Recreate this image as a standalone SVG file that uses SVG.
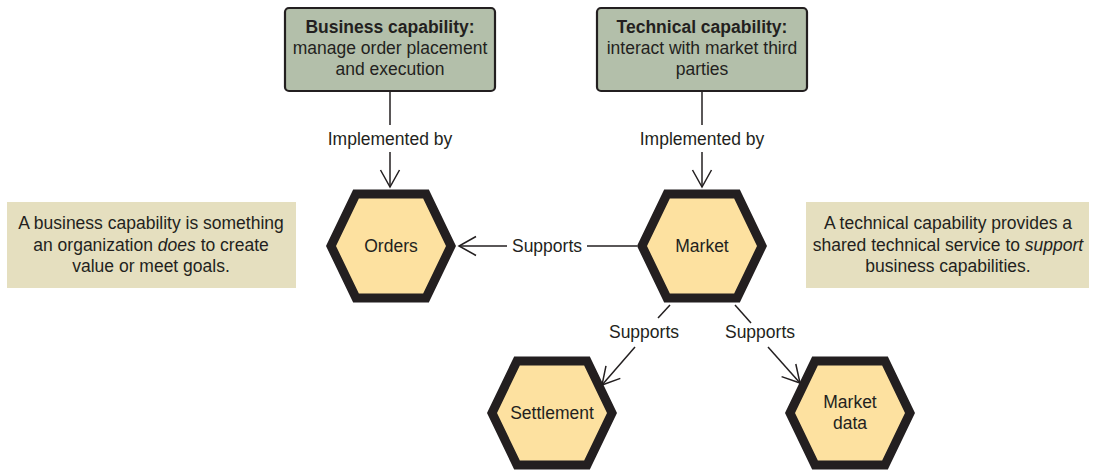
<svg xmlns="http://www.w3.org/2000/svg" width="1094" height="473" viewBox="0 0 1094 473">
<style>
text{font-family:"Liberation Sans",Arial,sans-serif;font-size:17.5px;fill:#231f20;text-anchor:middle}
.b{font-weight:bold}
.cap{fill:#b3bfaa;stroke:#231f20;stroke-width:2.2}
.note{fill:#e5dfbf}
.hex{fill:#fde1a0;stroke:#231f20;stroke-width:9;stroke-linejoin:miter}
.ln{fill:none;stroke:#231f20;stroke-width:1.5}
</style>
<defs>
<marker id="arr" markerUnits="userSpaceOnUse" markerWidth="40" markerHeight="40" viewBox="-20 -20 40 40" refX="0" refY="0" orient="auto">
<path d="M-17,-9.5 L0,0 L-17,9.5" fill="none" stroke="#231f20" stroke-width="1.5"/>
</marker>
</defs>
<g id="connectors">
<path class="ln" d="M390,91 V125"/>
<path class="ln" d="M390,152 V187" marker-end="url(#arr)"/>
<text x="390" y="145">Implemented by</text>
<path class="ln" d="M702,91 V125"/>
<path class="ln" d="M702,152 V187" marker-end="url(#arr)"/>
<text x="702" y="145">Implemented by</text>
<path class="ln" d="M637,246 H587"/>
<path class="ln" d="M507,246 H459" marker-end="url(#arr)"/>
<text x="547" y="252">Supports</text>
<path class="ln" d="M670,305 L658,318"/>
<path class="ln" d="M635,347 L602,385" marker-end="url(#arr)"/>
<text x="644" y="338">Supports</text>
<path class="ln" d="M735,305 L751,323"/>
<path class="ln" d="M768,347 L800,383" marker-end="url(#arr)"/>
<text x="760" y="338">Supports</text>
</g>
<g id="business-capability">
<rect class="cap" x="285" y="8" width="210" height="83" rx="4"/>
<text class="b" x="390" y="33">Business capability:</text>
<text x="390" y="54">manage order placement</text>
<text x="390" y="75">and execution</text>
</g>
<g id="technical-capability">
<rect class="cap" x="597" y="8" width="210" height="83" rx="4"/>
<text class="b" x="702" y="33">Technical capability:</text>
<text x="702" y="54">interact with market third</text>
<text x="702" y="75">parties</text>
</g>
<g id="note-business">
<rect class="note" x="7" y="202" width="289" height="86"/>
<text x="151" y="229">A business capability is something</text>
<text x="151" y="251">an organization <tspan font-style="italic">does</tspan> to create</text>
<text x="151" y="272">value or meet goals.</text>
</g>
<g id="note-technical">
<rect class="note" x="806" y="202" width="283" height="86"/>
<text x="948" y="229">A technical capability provides a</text>
<text x="948" y="251">shared technical service to <tspan font-style="italic">support</tspan></text>
<text x="948" y="272">business capabilities.</text>
</g>
<g id="orders">
<polygon class="hex" points="331,246 356,194 426,194 451,246 426,298 356,298"/>
<text x="391" y="252">Orders</text>
</g>
<g id="market">
<polygon class="hex" points="642,246 667,194 737,194 762,246 737,298 667,298"/>
<text x="702" y="252">Market</text>
</g>
<g id="settlement">
<polygon class="hex" points="492,413 517,361 587,361 612,413 587,465 517,465"/>
<text x="552" y="419">Settlement</text>
</g>
<g id="market-data">
<polygon class="hex" points="790,413 815,361 885,361 910,413 885,465 815,465"/>
<text x="850" y="408">Market</text>
<text x="850" y="429">data</text>
</g>
</svg>
